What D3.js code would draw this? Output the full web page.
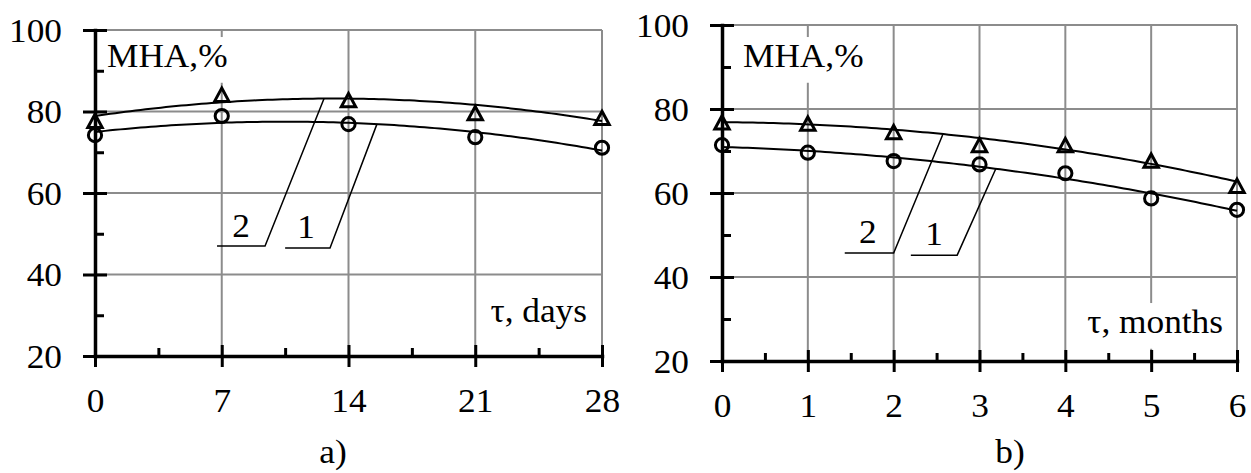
<!DOCTYPE html>
<html>
<head>
<meta charset="utf-8">
<script src="https://cdn.jsdelivr.net/npm/d3@7"></script>
<style>
  html, body { margin: 0; padding: 0; background: #fff; }
  svg { display: block; }
  text { font-family: "Liberation Serif", "Times New Roman", serif; fill: #000; }
</style>
</head>
<body>
<svg id="chart" width="1251" height="473"></svg>
<script>
// ---- data ----------------------------------------------------------------
// a) storage in days
const dayTicks = [0, 7, 14, 21, 28];
const dayMinorTicks = [3.5, 10.5, 17.5, 24.5];
const daySeries1 = [74.2, 78.9, 76.9, 73.7, 71.1];   // curve 1, circles
const daySeries2 = [77.9, 84.3, 83.0, 79.8, 78.6];   // curve 2, triangles

// b) storage in months
const monthTicks = [0, 1, 2, 3, 4, 5, 6];
const monthMinorTicks = [0.5, 1.5, 2.5, 3.5, 4.5, 5.5];
const monthSeries1 = [71.4, 69.6, 67.6, 66.8, 64.7, 58.7, 56.0];
const monthSeries2 = [77.0, 76.7, 74.7, 71.6, 71.6, 67.9, 61.9];

// shared value axis
const valueTicks = [20, 40, 60, 80, 100];
const valueMinorTicks = [30, 50, 70, 90];

const yTitle = "MHA,%";
const dayTitle = "τ, days";
const monthTitle = "τ, months";
const captions = ["a)", "b)"];
const curveNames = ["1", "2"];

// ---- helpers -------------------------------------------------------------
const FONT = 33;
const STRETCH = 1.07;
const tickFormat = d3.format("d");

// least-squares quadratic trend y = a + b x + c x^2
function quadFit(xs, ys) {
  const n = xs.length;
  let s1 = 0, s2 = 0, s3 = 0, s4 = 0, t0 = 0, t1 = 0, t2 = 0;
  for (let i = 0; i < n; i++) {
    const x = xs[i], y = ys[i];
    s1 += x; s2 += x * x; s3 += x * x * x; s4 += x * x * x * x;
    t0 += y; t1 += x * y; t2 += x * x * y;
  }
  const M = [[n, s1, s2], [s1, s2, s3], [s2, s3, s4]];
  const det = m => m[0][0] * (m[1][1] * m[2][2] - m[1][2] * m[2][1])
                 - m[0][1] * (m[1][0] * m[2][2] - m[1][2] * m[2][0])
                 + m[0][2] * (m[1][0] * m[2][1] - m[1][1] * m[2][0]);
  const D = det(M);
  const rhs = [t0, t1, t2];
  const coef = [0, 1, 2].map(k => {
    const m = M.map((row, r) => row.map((v, c) => (c === k ? rhs[r] : v)));
    return det(m) / D;
  });
  return x => coef[0] + coef[1] * x + coef[2] * x * x;
}

const svg = d3.select("#chart");
svg.append("rect").attr("width", 1251).attr("height", 473).attr("fill", "#fff");

function stretchedText(parent, str, x, y, anchor) {
  return parent.append("text")
    .attr("transform", `translate(${x},${y}) scale(${STRETCH},1)`)
    .attr("text-anchor", anchor || "start")
    .attr("font-size", FONT)
    .text(str);
}

// open triangle centred on its bounding box
const trianglePath = "M0,-5.9L7.2,7.4L-7.2,7.4Z";

const panels = [
  {
    xs: dayTicks, minor: dayMinorTicks, s1: daySeries1, s2: daySeries2,
    xRange: [95, 602], yRange: [356, 30],
    titlePos: [107, 67], xTitle: dayTitle, xTitlePos: [587, 322],
    caption: captions[0], captionX: 333,
    // callouts: label position, leader shelf start/end, point on the curve
    callouts: [
      { name: curveNames[1], series: 2, label: [8.06, 49.2], shelf: [6.74, 9.39, 47.0], tip: 12.65 },
      { name: curveNames[0], series: 1, label: [11.65, 49.0], shelf: [10.5, 12.98, 46.5], tip: 15.57 }
    ]
  },
  {
    xs: monthTicks, minor: monthMinorTicks, s1: monthSeries1, s2: monthSeries2,
    xRange: [722, 1237], yRange: [361, 25],
    titlePos: [743, 67], xTitle: monthTitle, xTitlePos: [1223, 333],
    caption: captions[1], captionX: 1010,
    callouts: [
      { name: curveNames[1], series: 2, label: [1.70, 48.1], shelf: [1.43, 2.0, 45.7], tip: 2.575 },
      { name: curveNames[0], series: 1, label: [2.47, 47.6], shelf: [2.2, 2.74, 45.2], tip: 3.19 }
    ]
  }
];

panels.forEach(p => {
  const xMax = p.xs[p.xs.length - 1];
  const x = d3.scaleLinear().domain([p.xs[0], xMax]).range(p.xRange);
  const y = d3.scaleLinear().domain([valueTicks[0], valueTicks[valueTicks.length - 1]]).range(p.yRange);
  const g = svg.append("g");

  // grid
  const grid = g.append("g").attr("stroke", "#8c8c8c").attr("stroke-width", 2);
  grid.selectAll(".h").data(valueTicks.slice(1)).join("line")
    .attr("x1", x.range()[0]).attr("x2", x.range()[1])
    .attr("y1", d => y(d)).attr("y2", d => y(d));
  grid.selectAll(".v").data(p.xs.slice(1)).join("line")
    .attr("x1", d => x(d)).attr("x2", d => x(d))
    .attr("y1", y.range()[0]).attr("y2", y.range()[1]);

  // titles on white boxes
  const titles = g.append("g");
  const t1 = stretchedText(titles, yTitle, p.titlePos[0], p.titlePos[1], "start");
  const t2 = stretchedText(titles, p.xTitle, p.xTitlePos[0], p.xTitlePos[1], "end");
  [t1, t2].forEach(t => {
    const b = t.node().getBBox();
    const w = b.width * STRETCH;
    const tr = t.node().transform.baseVal.consolidate().matrix;
    const left = tr.e + b.x * STRETCH;
    titles.insert("rect", "text")
      .attr("x", left - 6).attr("y", tr.f + b.y - 1)
      .attr("width", w + 12).attr("height", b.height + 10)
      .attr("fill", "#fff");
  });

  // axes
  const yAxis = g.append("g").attr("transform", `translate(${x.range()[0]},0)`)
    .call(d3.axisLeft(y).tickValues(valueTicks).tickFormat(tickFormat).tickSize(12).tickSizeOuter(0));
  yAxis.attr("font-family", null);
  yAxis.select(".domain").attr("stroke-width", 3.5);
  yAxis.selectAll(".tick line").attr("x1", 12).attr("stroke-width", 3);
  yAxis.selectAll(".tick text")
    .attr("x", -33 / STRETCH).attr("dy", "0.34em").attr("font-size", FONT)
    .attr("transform", `scale(${STRETCH},1)`);
  g.append("g").attr("transform", `translate(${x.range()[0]},0)`)
    .call(d3.axisLeft(y).tickValues(valueMinorTicks).tickSize(-9).tickFormat(""))
    .call(s => s.select(".domain").remove())
    .selectAll("line").attr("stroke-width", 3);

  const xAxis = g.append("g").attr("transform", `translate(0,${y.range()[0]})`)
    .call(d3.axisBottom(x).tickValues(p.xs).tickFormat(tickFormat).tickSize(11).tickSizeOuter(0));
  xAxis.attr("font-family", null);
  xAxis.select(".domain").attr("stroke-width", 3.5);
  xAxis.selectAll(".tick line").attr("y1", -11).attr("stroke-width", 3);
  xAxis.selectAll(".tick text")
    .attr("y", 56).attr("dy", 0).attr("font-size", FONT)
    .attr("transform", `scale(${STRETCH},1)`);
  g.append("g").attr("transform", `translate(0,${y.range()[0]})`)
    .call(d3.axisBottom(x).tickValues(p.minor).tickSize(-8).tickFormat(""))
    .call(s => s.select(".domain").remove())
    .selectAll("line").attr("stroke-width", 3);
  g.selectAll(".domain").attr("stroke-linecap", "square");

  // trend curves
  const fits = { 1: quadFit(p.xs, p.s1), 2: quadFit(p.xs, p.s2) };
  const samples = d3.range(0, 101).map(i => p.xs[0] + (xMax - p.xs[0]) * i / 100);
  const line = d3.line().x(d => x(d[0])).y(d => y(d[1]));
  [1, 2].forEach(k => {
    g.append("path")
      .attr("d", line(samples.map(v => [v, fits[k](v)])))
      .attr("fill", "none").attr("stroke", "#000").attr("stroke-width", 2);
  });

  // markers
  g.append("g").selectAll("circle").data(p.s1).join("circle")
    .attr("cx", (d, i) => x(p.xs[i])).attr("cy", d => y(d)).attr("r", 6.6)
    .attr("fill", "none").attr("stroke", "#000").attr("stroke-width", 3);
  g.append("g").selectAll("path").data(p.s2).join("path")
    .attr("d", trianglePath)
    .attr("transform", (d, i) => `translate(${x(p.xs[i])},${y(d)})`)
    .attr("fill", "none").attr("stroke", "#000").attr("stroke-width", 3)
    .attr("stroke-linejoin", "miter");

  // curve callouts
  p.callouts.forEach(c => {
    const f = fits[c.series];
    g.append("path")
      .attr("d", `M${x(c.shelf[0])},${y(c.shelf[2])}H${x(c.shelf[1])}L${x(c.tip)},${y(f(c.tip))}`)
      .attr("fill", "none").attr("stroke", "#000").attr("stroke-width", 1.5);
    stretchedText(g, c.name, x(c.label[0]), y(c.label[1]), "middle");
  });

  // caption
  stretchedText(g, p.caption, p.captionX, 463, "middle");
});
</script>
</body>
</html>
